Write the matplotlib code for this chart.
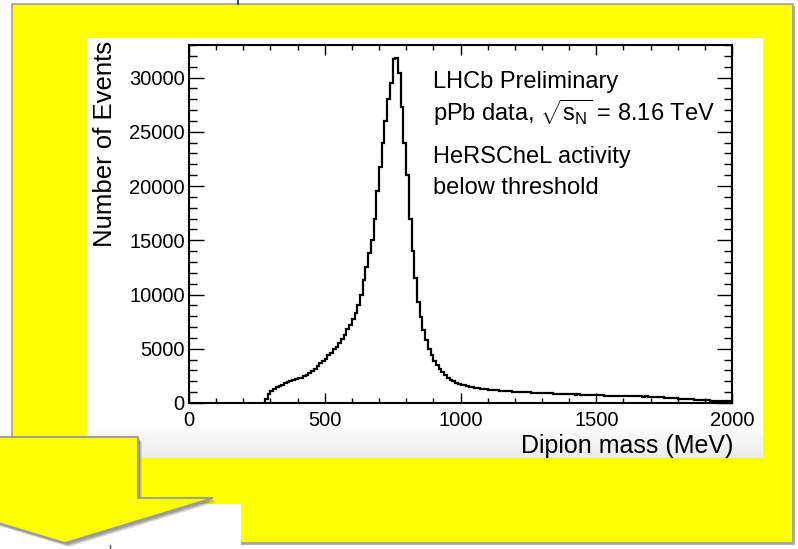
import numpy as np
import matplotlib
matplotlib.use("Agg")
import matplotlib.pyplot as plt
from matplotlib.patches import Rectangle, Polygon
from matplotlib.lines import Line2D

plt.rcParams["font.family"] = ["Liberation Sans", "DejaVu Sans"]
plt.rcParams["mathtext.fontset"] = "custom"
plt.rcParams["mathtext.rm"] = "Liberation Sans"
plt.rcParams["mathtext.it"] = "Liberation Sans:italic"

# Dipion invariant-mass histogram, 10 MeV bins from 280 to 2000 MeV
bin_low = 280
bin_high = 2000
bin_width = 10
counts = [
    350, 850, 1100, 1300, 1450, 1600, 1700, 1800, 1950, 2050,
    2150, 2200, 2280, 2350, 2450, 2600, 2750, 2950, 3150, 3400,
    3650, 3850, 4100, 4400, 4650, 4950, 5200, 5500, 5900, 6300,
    6800, 7200, 7700, 8300, 9000, 10000, 11300, 12500, 13800, 15000,
    17000, 19500, 21800, 24000, 26000, 28000, 29500, 31700, 31800, 30400,
    27300, 24000, 21000, 17000, 14000, 11500, 9300, 7900, 6700, 5800,
    5000, 4400, 3900, 3500, 3150, 2850, 2600, 2350, 2150, 2000,
    1880, 1780, 1700, 1620, 1560, 1500, 1450, 1400, 1360, 1320,
    1290, 1260, 1230, 1200, 1180, 1160, 1140, 1120, 1100, 1090,
    1070, 1060, 1040, 1020, 1010, 1000, 990, 970, 960, 950,
    940, 930, 920, 900, 890, 880, 870, 860, 840, 830,
    820, 810, 800, 790, 780, 790, 770, 760, 750, 740,
    730, 720, 760, 700, 710, 690, 680, 680, 670, 660,
    680, 650, 640, 650, 630, 620, 630, 610, 600, 590,
    600, 570, 560, 550, 540, 520, 510, 490, 470, 460,
    440, 420, 400, 390, 370, 360, 340, 330, 310, 300,
    280, 270, 260, 250, 230, 220, 210, 200, 190, 180,
    170, 160,
]
x_ticks = [0, 500, 1000, 1500, 2000]
y_ticks = [0, 5000, 10000, 15000, 20000, 25000, 30000]
x_label = "Dipion mass (MeV)"
y_label = "Number of Events"
info_lines = [
    "LHCb Preliminary",
    r"pPb data, $\sqrt{\mathrm{s}_{\mathrm{N}}}$ = 8.16 TeV",
    "HeRSCheL activity",
    "below threshold",
]

W, H = 798, 549
fig = plt.figure(figsize=(W / 100, H / 100), dpi=100)
fig.patch.set_facecolor("white")


def fx(x):
    return x / W


def fy(y):
    return 1 - y / H


def rect_px(x0, y0, x1, y1, **kw):
    return Rectangle((fx(x0), fy(y1)), (x1 - x0) / W, (y1 - y0) / H,
                     transform=fig.transFigure, **kw)


def poly_px(pts, **kw):
    return Polygon([(fx(x), fy(y)) for x, y in pts], closed=True,
                   transform=fig.transFigure, **kw)


YELLOW = "#FFFF00"
GREY = "#A0A0A0"

# slide panel with a soft shadow
fig.add_artist(rect_px(14, 6, 795, 545, facecolor="#B0B0B0", edgecolor="none", zorder=0.5))
fig.add_artist(rect_px(12, 4, 793, 543, facecolor=YELLOW, edgecolor=GREY, lw=1.2, zorder=1))

# white plot canvas with a faint grey fade at its bottom
bg = fig.add_axes([fx(87), fy(458), (763 - 87) / W, (458 - 38) / H], zorder=2)
rows = np.arange(38, 458)
shade = 1 - 0.08 * np.clip((rows - 425) / 33.0, 0, 1)
grad = np.repeat(shade[:, None], 4, axis=1)
bg.imshow(grad, cmap="gray", vmin=0, vmax=1, aspect="auto",
          extent=[0, 1, 0, 1], interpolation="bilinear")
bg.set_axis_off()

# white patch at lower left and the down arrow on top of it
fig.add_artist(rect_px(0, 504, 241, 549, facecolor="white", edgecolor="none", zorder=3))
arrow = [(-10, 437), (138, 437), (138, 498), (213, 498), (65, 543),
         (-85, 498), (-10, 498)]
for off, a in [(4, 0.2), (3, 0.3), (2, 0.4)]:
    fig.add_artist(poly_px([(x + off, y + off) for x, y in arrow],
                           facecolor="#707070", edgecolor="none", alpha=a, zorder=3.5))
fig.add_artist(poly_px(arrow, facecolor=YELLOW, edgecolor="#9A9A9A", lw=1.3, zorder=4))

# small stray marks along the edges
fig.add_artist(Line2D([fx(238), fx(238)], [fy(0), fy(4)], color="#1a2a50", lw=1.2,
                      transform=fig.transFigure, zorder=4))
fig.add_artist(Line2D([fx(110), fx(110)], [fy(545), fy(549)], color="#505050", lw=1.0,
                      transform=fig.transFigure, zorder=4))

# histogram axes
ax = fig.add_axes([fx(189), fy(403), (732 - 189) / W, (403 - 45) / H], zorder=5)
ax.set_facecolor("white")
edges = np.arange(bin_low, bin_high + 1, bin_width)
ax.stairs(counts, edges, baseline=0, color="black", lw=1.6)
ax.set_xlim(0, 2000)
ax.set_ylim(0, 33000)
ax.set_xticks(x_ticks)
ax.set_xticklabels([str(v) for v in x_ticks])
ax.set_yticks(y_ticks)
ax.set_yticklabels([str(v) for v in y_ticks])
ax.set_xticks(np.arange(0, 2001, 100), minor=True)
ax.set_yticks(np.arange(0, 33001, 1000), minor=True)
for s in ax.spines.values():
    s.set_linewidth(1.5)
ax.tick_params(axis="x", which="major", direction="in", top=True, length=7.5, width=1.0,
               labelsize=14.5, pad=6)
ax.tick_params(axis="x", which="minor", direction="in", top=True, length=3.8, width=1.0)
ax.tick_params(axis="y", which="major", direction="in", right=True, length=11, width=1.0,
               labelsize=14.5, pad=3)
ax.tick_params(axis="y", which="minor", direction="in", right=True, length=5.5, width=1.0)

# axis titles
fig.text(fx(733), fy(453), x_label, ha="right", va="baseline", fontsize=18, zorder=6)
fig.text(fx(105), fy(41), y_label, ha="center", va="top", rotation=90, fontsize=18.5, zorder=6)

# annotation block
for txt, yc in zip(info_lines, [82, 113, 157, 188]):
    fig.text(fx(433), fy(yc), txt, ha="left", va="center", fontsize=17, zorder=6)

fig.savefig("out.png", dpi=100, facecolor="white")
